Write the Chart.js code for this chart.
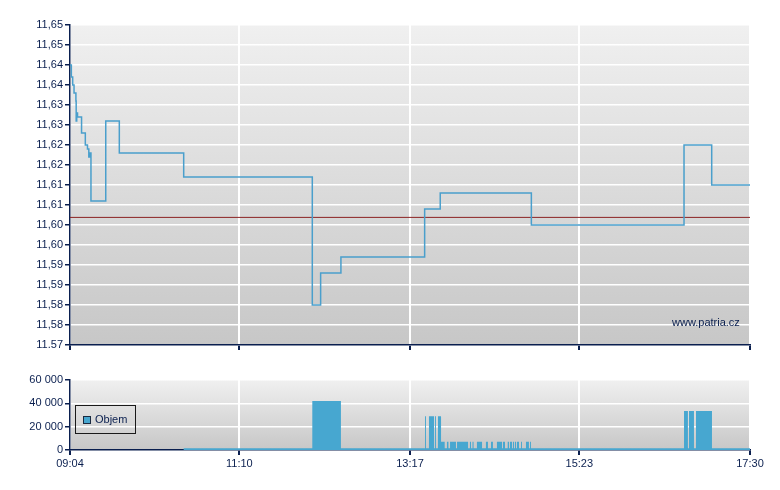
<!DOCTYPE html>
<html>
<head>
<meta charset="utf-8">
<script src="https://cdn.jsdelivr.net/npm/chart.js@4/dist/chart.umd.min.js"></script>
<style>
  body { margin: 0; background: #fff; }
  #wrap { position: relative; width: 780px; height: 490px; font-family: "Liberation Sans", Arial, sans-serif; }
  canvas { position: absolute; left: 0; }
  #price { top: 0; }
  #volume { top: 370px; }
  #mark { position: absolute; left: 672px; top: 316px; font-size: 11px; color: #0a1f4f; }
  #legend { position: absolute; left: 75px; top: 405px; width: 59px; height: 27px; border: 1px solid #1a1a1a; }
  #legend .sw { position: absolute; left: 7px; top: 10px; width: 6px; height: 6px; background: #47a7d0; border: 1px solid #1a2a40; }
  #legend .tx { position: absolute; left: 19px; top: 7px; font-size: 11px; color: #0a1f4f; }
</style>
</head>
<body>
<div id="wrap">
  <canvas id="price" width="780" height="360"></canvas>
  <canvas id="volume" width="780" height="120"></canvas>
  <div id="mark">www.patria.cz</div>
  <div id="legend"><div class="sw"></div><div class="tx">Objem</div></div>
</div>
<script>
// minutes since 09:04
let timeTicks = [0, 126, 253, 379, 506];
let timeLabels = ["09:04", "11:10", "13:17", "15:23", "17:30"];

let priceTicks = [11.570, 11.575, 11.580, 11.585, 11.590, 11.595, 11.600, 11.605, 11.610, 11.615, 11.620, 11.625, 11.630, 11.635, 11.640, 11.645, 11.650];
let priceLabels = ["11.57", "11,58", "11,58", "11,59", "11,59", "11,60", "11,60", "11,61", "11,61", "11,62", "11,62", "11,63", "11,63", "11,64", "11,64", "11,65", "11,65"];

let priceTimes = [0, 1, 2, 3, 4.4, 4.6, 5, 5.6, 8.6, 11.4, 13, 14, 14.6, 15.6, 26.6, 36.7, 84.6, 180.3, 186.5, 201.6, 263.9, 275.5, 343.3, 456.9, 477.5, 506];
let priceValues = [11.640, 11.637, 11.635, 11.633, 11.631, 11.626, 11.628, 11.627, 11.623, 11.620, 11.619, 11.617, 11.618, 11.606, 11.626, 11.618, 11.612, 11.580, 11.588, 11.592, 11.604, 11.608, 11.600, 11.620, 11.610, 11.610];
let prevClose = 11.6019;

let volTicks = [0, 20000, 40000, 60000];
let volLabels = ["0", "20 000", "40 000", "60 000"];
let volTimes = [0, 84.6, 180.3, 201.6, 264.2, 264.9, 267.1, 270.9, 271.6, 272.3, 273.8, 276.1, 278.8, 280.5, 281.6, 282.8, 287.2, 288, 296.2, 297.6, 298.4, 299.5, 300.3, 302.8, 306.6, 309.5, 311, 313.3, 314.7, 317.7, 321.5, 322.2, 323.7, 325.7, 326.7, 327.4, 328.9, 329.6, 330.4, 331.1, 331.9, 332.6, 334.1, 335.6, 336.3, 339.3, 341.5, 342.3, 343, 456.9, 459.8, 460.6, 464.3, 465.8, 477.7, 506];
let volValues = [0, 1500, 42000, 1500, 29000, 1500, 29000, 1500, 29000, 1500, 29000, 7000, 1500, 7000, 1500, 7000, 1500, 7000, 1500, 7000, 1500, 7000, 1500, 7000, 1500, 7000, 1500, 7000, 1500, 7000, 1500, 7000, 1500, 7000, 1500, 7000, 1500, 7000, 1500, 7000, 1500, 7000, 1500, 7000, 1500, 7000, 1500, 7000, 1500, 33500, 1500, 33500, 1500, 33500, 1500, 1500];

let navy = "#0a1f4f";
Chart.defaults.font.family = '"Liberation Sans", Arial, sans-serif';
Chart.defaults.font.size = 11;
Chart.defaults.color = navy;

let bgPlugin = {
  id: "bg",
  beforeDraw(chart) {
    let a = chart.chartArea;
    let ctx = chart.ctx;
    let g = ctx.createLinearGradient(0, a.top, 0, a.bottom);
    g.addColorStop(0, "#f0f0f0");
    g.addColorStop(1, "#c7c7c7");
    ctx.save();
    ctx.fillStyle = g;
    ctx.fillRect(a.left, a.top, a.right - a.left, a.bottom - a.top);
    ctx.restore();
  }
};

function xScale(showLabels, h) {
  return {
    type: "linear", min: 0, max: 506,
    afterBuildTicks: s => { s.ticks = timeTicks.map(v => ({ value: v })); },
    afterFit: s => { s.height = h; },
    ticks: { display: showLabels, padding: 2, maxRotation: 0, callback: (v) => timeLabels[timeTicks.indexOf(v)] },
    grid: { color: "#ffffff", lineWidth: 2, tickColor: navy, tickLength: 5 },
    border: { color: navy, width: 1.5 }
  };
}

function yScale(min, max, vals, labels) {
  return {
    min: min, max: max,
    afterBuildTicks: s => { s.ticks = vals.map(v => ({ value: v })); },
    afterFit: s => { s.width = 70; },
    ticks: { padding: 2, callback: (v) => labels[vals.findIndex(t => Math.abs(t - v) < 1e-6)] },
    grid: { color: "#ffffff", lineWidth: 1.5, tickColor: navy, tickLength: 5 },
    border: { color: navy, width: 1.5 }
  };
}

new Chart(document.getElementById("price"), {
  type: "line",
  data: {
    datasets: [{
      data: priceTimes.map((t, i) => ({ x: t, y: priceValues[i] })),
      stepped: true,
      borderColor: "#4a9fcc",
      borderWidth: 1.5,
      pointRadius: 0,
      order: 1
    }, {
      data: [{ x: 0, y: prevClose }, { x: 506, y: prevClose }],
      borderColor: "#8b2222",
      borderWidth: 1,
      pointRadius: 0,
      order: 2
    }]
  },
  options: {
    responsive: false,
    animation: false,
    layout: { padding: { top: 25, right: 30, left: 0, bottom: 0 } },
    plugins: { legend: { display: false }, tooltip: { enabled: false } },
    scales: {
      x: xScale(false, 15),
      y: yScale(11.57, 11.65, priceTicks, priceLabels)
    }
  },
  plugins: [bgPlugin]
});

new Chart(document.getElementById("volume"), {
  type: "line",
  data: {
    datasets: [{
      label: "Objem",
      data: volTimes.map((t, i) => ({ x: t, y: volValues[i] })),
      stepped: true,
      fill: "origin",
      backgroundColor: "#47a7d0",
      borderWidth: 0,
      pointRadius: 0
    }]
  },
  options: {
    responsive: false,
    animation: false,
    layout: { padding: { top: 10, right: 30, left: 0, bottom: 0 } },
    plugins: { legend: { display: false }, tooltip: { enabled: false } },
    scales: {
      x: xScale(true, 40),
      y: yScale(0, 60000, volTicks, volLabels)
    }
  },
  plugins: [bgPlugin]
});
</script>
</body>
</html>
